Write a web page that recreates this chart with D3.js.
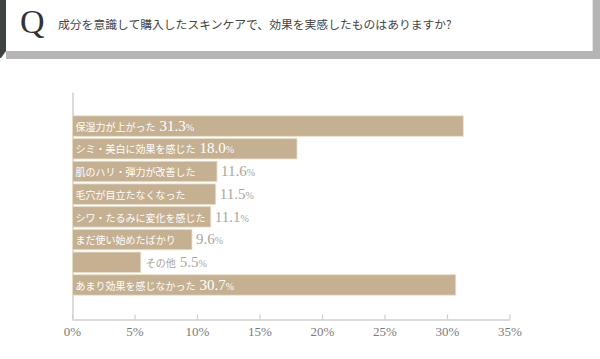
<!DOCTYPE html>
<html><head><meta charset="utf-8">
<script src="https://cdn.jsdelivr.net/npm/d3@7"></script>
<style>html,body{margin:0;padding:0;background:#fff;}svg{display:block;}</style>
</head><body>
<script>
const title = "成分を意識して購入したスキンケアで、効果を実感したものはありますか?";
const categories = ["保湿力が上がった","シミ・美白に効果を感じた","肌のハリ・弾力が改善した","毛穴が目立たなくなった","シワ・たるみに変化を感じた","まだ使い始めたばかり","その他","あまり効果を感じなかった"];
const values = [31.3, 18.0, 11.6, 11.5, 11.1, 9.6, 5.5, 30.7];
const tickValues = [0,5,10,15,20,25,30,35];
const tickLabels = ["0%","5%","10%","15%","20%","25%","30%","35%"];

const W = 600, H = 359;
const svg = d3.select("body").append("svg").attr("width", W).attr("height", H);
svg.append("rect").attr("width", W).attr("height", H).attr("fill", "#fff");

// header box
svg.append("rect").attr("x", 6).attr("y", 51).attr("width", 594).attr("height", 8).attr("fill", "#b5b5b5");
svg.append("rect").attr("x", 593).attr("y", 0).attr("width", 7).attr("height", 59).attr("fill", "#b5b5b5");
svg.append("line").attr("x1", 592.5).attr("x2", 592.5).attr("y1", 0).attr("y2", 51).attr("stroke", "#e6e6e6");
svg.append("path").attr("d", "M0,0L6,0L6,51L1,58L0,58Z").attr("fill", "#3d4243");
svg.append("text").attr("x", 20).attr("y", 33).attr("font-family", "Liberation Serif").attr("font-size", 34).attr("fill", "#333").text("Q");
svg.append("text").attr("x", 58).attr("y", 28.5).attr("font-family", "Noto Sans CJK JP").attr("font-size", 11.8).attr("fill", "#444").text(title);

const x = d3.scaleLinear().domain([0, 35]).range([72, 509.5]);
const y = d3.scaleBand().domain(categories).range([92, 319]).paddingInner(0.1).paddingOuter(1.05);

// axes
const gx = svg.append("g").attr("transform", "translate(0,319.5)")
  .call(d3.axisBottom(x).tickValues(tickValues).tickFormat((d,i)=>tickLabels[i]).tickSizeInner(-5).tickSizeOuter(0).tickPadding(7));
gx.select(".domain").attr("stroke", "#cfcfcf").attr("stroke-width", 1.5);
gx.selectAll(".tick line").attr("stroke", "#cfcfcf").attr("stroke-width", 1.2);
gx.selectAll(".tick text").attr("font-family", "Liberation Serif").attr("font-size", 13).attr("fill", "#7a7a7a");

const gy = svg.append("g").attr("transform", "translate(72.5,0)")
  .call(d3.axisLeft(y).tickSize(0).tickFormat(""));
gy.select(".domain").attr("stroke", "#cfcfcf").attr("stroke-width", 1.5);

// bars
const bars = svg.append("g");
bars.selectAll("rect").data(values).enter().append("rect")
  .attr("x", x(0) + 0.5)
  .attr("y", (d,i) => y(categories[i]))
  .attr("width", d => x(d) - x(0) - 0.5)
  .attr("height", y.bandwidth())
  .attr("fill", "#c5b092")
  .attr("stroke", "#eadfcd").attr("stroke-width", 0.8);

// labels
const FS = 10;
const labels = svg.append("g");
values.forEach((v, i) => {
  const cy = y(categories[i]) + y.bandwidth() / 2 + 4.7;
  const barEnd = x(v);
  const t = labels.append("text").attr("y", cy).attr("x", x(0) + 3.5);
  const lab = t.append("tspan").attr("font-family", "Noto Sans CJK JP").attr("font-size", FS).text(categories[i]);
  t.append("tspan").attr("font-family", "Liberation Serif").attr("font-size", 15).attr("dx", 4).text(v.toFixed(1));
  t.append("tspan").attr("font-family", "Liberation Serif").attr("font-size", 10).text("%");
  const full = t.node().getComputedTextLength();
  const labW = lab.node().getComputedTextLength();
  const barW = barEnd - x(0);
  if (full + 12 <= barW) {
    t.attr("fill", "#fff");
  } else if (labW + 3 <= barW && barW > 100) {
    t.remove();
    labels.append("text").attr("x", x(0) + 3.5).attr("y", cy).attr("fill", "#fff")
      .attr("font-family", "Noto Sans CJK JP").attr("font-size", FS).text(categories[i]);
    const t2 = labels.append("text").attr("x", barEnd + 4).attr("y", cy).attr("fill", "#aba59b");
    t2.append("tspan").attr("font-family", "Liberation Serif").attr("font-size", 15).text(v.toFixed(1));
    t2.append("tspan").attr("font-family", "Liberation Serif").attr("font-size", 10).text("%");
  } else {
    t.attr("x", barEnd + 5).attr("fill", "#aba59b");
  }
});
</script>
</body></html>
